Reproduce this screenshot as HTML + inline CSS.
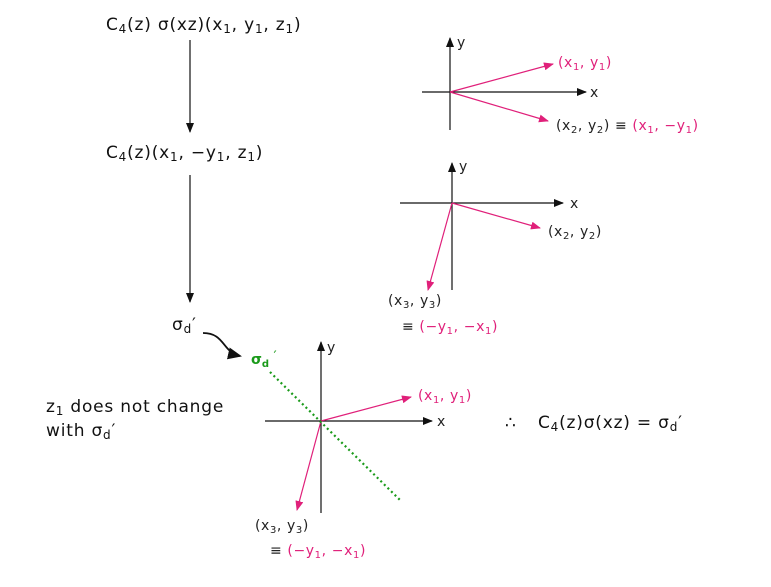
<!DOCTYPE html>
<html><head><style>
body{margin:0;background:#fff}
svg{display:block}
text{font-family:"DejaVu Sans","Liberation Sans",sans-serif}
</style></head><body>
<svg width="771" height="587" viewBox="0 0 771 587" xmlns="http://www.w3.org/2000/svg">
<defs>
<marker id="ak" markerWidth="10" markerHeight="8" refX="9" refY="4" orient="auto" markerUnits="userSpaceOnUse"><path d="M0,0 L10,4 L0,8 z" fill="#111"/></marker>
<marker id="ap" markerWidth="10" markerHeight="8" refX="9" refY="4" orient="auto" markerUnits="userSpaceOnUse"><path d="M0,0 L10,4 L0,8 z" fill="#e0207a"/></marker>
<marker id="ab" markerWidth="14" markerHeight="12" refX="12" refY="6" orient="auto" markerUnits="userSpaceOnUse"><path d="M0,0 L14,6 L0,12 z" fill="#111"/></marker>
</defs>
<g font-size="17" fill="#111" letter-spacing="0.8">
<text x="106" y="30">C<tspan font-size="12" dy="3">4</tspan><tspan dy="-3">(z) σ(xz)(x</tspan><tspan font-size="12" dy="3">1</tspan><tspan dy="-3">, y</tspan><tspan font-size="12" dy="3">1</tspan><tspan dy="-3">, z</tspan><tspan font-size="12" dy="3">1</tspan><tspan dy="-3">)</tspan></text>
<text x="106" y="158">C<tspan font-size="12" dy="3">4</tspan><tspan dy="-3">(z)(x</tspan><tspan font-size="12" dy="3">1</tspan><tspan dy="-3">, −y</tspan><tspan font-size="12" dy="3">1</tspan><tspan dy="-3">, z</tspan><tspan font-size="12" dy="3">1</tspan><tspan dy="-3">)</tspan></text>
<text x="172" y="330">σ<tspan font-size="12" dy="3">d</tspan><tspan dy="-3">′</tspan></text>
<text x="46" y="412">z<tspan font-size="12" dy="3">1</tspan><tspan dy="-3"> does not change</tspan></text>
<text x="46" y="436">with σ<tspan font-size="12" dy="3">d</tspan><tspan dy="-3">′</tspan></text>
<text x="505" y="428">∴</text>
<text x="538" y="428">C<tspan font-size="12" dy="3">4</tspan><tspan dy="-3">(z)σ(xz) = σ</tspan><tspan font-size="12" dy="3">d</tspan><tspan dy="-3">′</tspan></text>
</g>
<g stroke="#111" stroke-width="1.2" fill="none">
<line x1="190" y1="40" x2="190" y2="132" marker-end="url(#ak)"/>
<line x1="190" y1="175" x2="190" y2="302" marker-end="url(#ak)"/>
<path d="M203,333 C225,333 222,352 240,356" stroke-width="1.8" marker-end="url(#ab)"/>
<line x1="450" y1="130" x2="450" y2="38" marker-end="url(#ak)"/>
<line x1="422" y1="92" x2="586" y2="92" marker-end="url(#ak)"/>
<line x1="452" y1="290" x2="452" y2="163" marker-end="url(#ak)"/>
<line x1="400" y1="203" x2="563" y2="203" marker-end="url(#ak)"/>
<line x1="321" y1="513" x2="321" y2="342" marker-end="url(#ak)"/>
<line x1="265" y1="421" x2="432" y2="421" marker-end="url(#ak)"/>
</g>
<g stroke="#e0207a" stroke-width="1.2" fill="none">
<line x1="450" y1="92" x2="553" y2="64" marker-end="url(#ap)"/>
<line x1="450" y1="92" x2="548" y2="121" marker-end="url(#ap)"/>
<line x1="452" y1="203" x2="540" y2="228" marker-end="url(#ap)"/>
<line x1="452" y1="203" x2="428" y2="290" marker-end="url(#ap)"/>
<line x1="321" y1="421" x2="411" y2="397" marker-end="url(#ap)"/>
<line x1="321" y1="421" x2="297" y2="510" marker-end="url(#ap)"/>
</g>
<line x1="270" y1="372" x2="400" y2="500" stroke="#1a9a1a" stroke-width="2.2" stroke-dasharray="2,3"/>
<g font-size="14" fill="#222" letter-spacing="0.6">
<text x="457" y="47">y</text><text x="590" y="97">x</text>
<text x="459" y="171">y</text><text x="570" y="208">x</text>
<text x="327" y="352">y</text><text x="437" y="426">x</text>
<text x="556" y="130">(x<tspan font-size="10" dy="3">2</tspan><tspan dy="-3">, y</tspan><tspan font-size="10" dy="3">2</tspan><tspan dy="-3">) ≡ </tspan><tspan fill="#e0207a">(x<tspan font-size="10" dy="3">1</tspan><tspan dy="-3">, −y</tspan><tspan font-size="10" dy="3">1</tspan><tspan dy="-3">)</tspan></tspan></text>
<text x="548" y="236">(x<tspan font-size="10" dy="3">2</tspan><tspan dy="-3">, y</tspan><tspan font-size="10" dy="3">2</tspan><tspan dy="-3">)</tspan></text>
<text x="388" y="305">(x<tspan font-size="10" dy="3">3</tspan><tspan dy="-3">, y</tspan><tspan font-size="10" dy="3">3</tspan><tspan dy="-3">)</tspan></text>
<text x="402" y="331">≡ <tspan fill="#e0207a">(−y<tspan font-size="10" dy="3">1</tspan><tspan dy="-3">, −x</tspan><tspan font-size="10" dy="3">1</tspan><tspan dy="-3">)</tspan></tspan></text>
<text x="255" y="530">(x<tspan font-size="10" dy="3">3</tspan><tspan dy="-3">, y</tspan><tspan font-size="10" dy="3">3</tspan><tspan dy="-3">)</tspan></text>
<text x="270" y="555">≡ <tspan fill="#e0207a">(−y<tspan font-size="10" dy="3">1</tspan><tspan dy="-3">, −x</tspan><tspan font-size="10" dy="3">1</tspan><tspan dy="-3">)</tspan></tspan></text>
</g>
<g font-size="14" fill="#e0207a" letter-spacing="0.6">
<text x="558" y="67">(x<tspan font-size="10" dy="3">1</tspan><tspan dy="-3">, y</tspan><tspan font-size="10" dy="3">1</tspan><tspan dy="-3">)</tspan></text>
<text x="418" y="400">(x<tspan font-size="10" dy="3">1</tspan><tspan dy="-3">, y</tspan><tspan font-size="10" dy="3">1</tspan><tspan dy="-3">)</tspan></text>
</g>
<text x="251" y="364" font-size="14" fill="#1a9a1a" font-weight="bold">σ<tspan font-size="10" dy="3">d</tspan><tspan dy="-6" font-weight="normal"> ′</tspan></text>
</svg>
</body></html>
